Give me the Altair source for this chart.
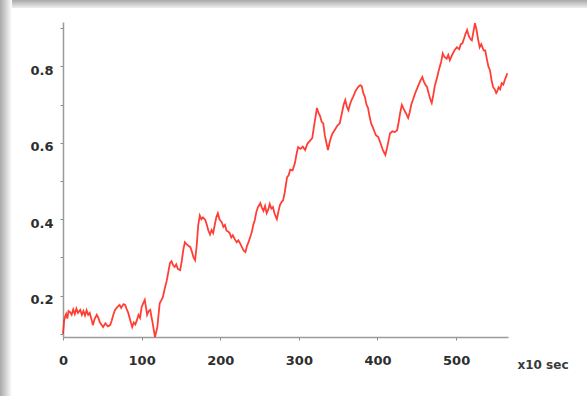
import altair as alt
import pandas as pd

# Time axis in units of 10 seconds, and the measured signal
t = [0, 1.5, 2.5, 4, 5.5, 7, 9, 11, 13, 15, 17, 19, 22, 24, 26, 28, 30, 32, 34, 36, 38, 40,
     43, 45, 47, 49, 51, 54, 57, 60, 62, 64, 66, 69, 72, 74, 77, 79, 81, 83, 85, 87, 88, 90,
     92, 94, 96, 98, 100, 102, 104, 105.5, 107, 109, 111, 112.5, 114, 115.5, 117, 118.5, 120,
     121.5, 123, 125, 127, 129, 132, 134, 136, 138, 140, 142, 144, 146, 149, 151, 153, 155,
     157, 160, 162, 164, 166, 168, 170, 172, 174, 176, 178, 181, 183, 185, 187, 189, 191, 193,
     195, 197, 199, 202, 204, 206, 208, 210, 212, 214, 216, 219, 221, 223, 225, 228, 230, 232,
     234, 236, 238, 240, 242, 244, 246, 248, 251, 253, 255, 257, 259, 261, 263, 265, 267, 269,
     272, 274, 276, 278, 280, 282, 285, 287, 289, 292, 295, 297, 299, 302, 305, 308, 311, 314,
     317, 319, 321, 323, 325, 327, 329, 331, 333, 335, 337, 339, 341, 343, 346, 349, 352, 355,
     357, 359, 361, 363, 365, 367, 369, 372, 375, 378, 380, 382, 384, 386, 388, 390, 392, 394,
     396, 398, 401, 404, 407, 410, 412, 414, 416, 419, 422, 425, 427, 429, 431, 433, 436, 439,
     441, 443, 445, 448, 451, 454, 457, 459, 461, 463, 465, 467, 469, 471, 473, 476, 478, 481,
     483, 485, 488, 490, 492, 495, 498, 501, 504, 506, 508, 510, 512, 514, 516, 518, 520, 522,
     524, 526, 528, 530, 532, 535, 537, 539, 541, 543, 545, 547, 549, 551, 552, 554, 556, 558,
     560, 562, 564, 565]
signal = [0.100, 0.135, 0.144, 0.152, 0.140, 0.160, 0.157, 0.150, 0.164, 0.152, 0.166, 0.155,
          0.163, 0.150, 0.160, 0.148, 0.162, 0.150, 0.155, 0.140, 0.123, 0.138, 0.150, 0.142,
          0.130, 0.124, 0.118, 0.128, 0.120, 0.123, 0.135, 0.150, 0.162, 0.170, 0.176, 0.168,
          0.178, 0.176, 0.165, 0.155, 0.140, 0.125, 0.118, 0.130, 0.125, 0.136, 0.150, 0.142,
          0.170, 0.180, 0.189, 0.170, 0.150, 0.160, 0.163, 0.145, 0.129, 0.110, 0.092, 0.105,
          0.118, 0.150, 0.180, 0.188, 0.196, 0.215, 0.240, 0.262, 0.285, 0.290, 0.280, 0.275,
          0.282, 0.270, 0.267, 0.290, 0.320, 0.340, 0.335, 0.330, 0.327, 0.315, 0.300, 0.293,
          0.330, 0.385, 0.410, 0.400, 0.405, 0.398, 0.385, 0.370, 0.360, 0.372, 0.364, 0.385,
          0.405, 0.416, 0.400, 0.392, 0.380, 0.385, 0.370, 0.368, 0.364, 0.352, 0.358, 0.346,
          0.340, 0.345, 0.338, 0.325, 0.318, 0.314, 0.330, 0.340, 0.353, 0.365, 0.385, 0.398,
          0.420, 0.432, 0.442, 0.430, 0.422, 0.435, 0.416, 0.425, 0.440, 0.428, 0.432, 0.415,
          0.400, 0.420, 0.438, 0.445, 0.450, 0.470, 0.510, 0.515, 0.530, 0.528, 0.547, 0.570,
          0.589, 0.584, 0.590, 0.581, 0.598, 0.605, 0.612, 0.640, 0.665, 0.691, 0.678, 0.670,
          0.655, 0.651, 0.620, 0.600, 0.581, 0.600, 0.615, 0.625, 0.635, 0.645, 0.651, 0.680,
          0.700, 0.712, 0.695, 0.685, 0.700, 0.712, 0.720, 0.735, 0.745, 0.751, 0.748, 0.730,
          0.720, 0.700, 0.691, 0.668, 0.650, 0.641, 0.630, 0.620, 0.615, 0.598, 0.580, 0.568,
          0.585, 0.605, 0.625, 0.630, 0.628, 0.633, 0.655, 0.680, 0.699, 0.690, 0.678, 0.665,
          0.680, 0.700, 0.712, 0.730, 0.745, 0.760, 0.772, 0.760, 0.752, 0.746, 0.730, 0.715,
          0.704, 0.725, 0.750, 0.772, 0.790, 0.812, 0.834, 0.825, 0.820, 0.830, 0.816, 0.830,
          0.842, 0.850, 0.845, 0.858, 0.860, 0.872, 0.885, 0.895, 0.880, 0.872, 0.868, 0.890,
          0.913, 0.895, 0.870, 0.850, 0.858, 0.842, 0.842, 0.820, 0.800, 0.790, 0.765, 0.746,
          0.740, 0.730, 0.733, 0.745, 0.740, 0.756, 0.752, 0.765, 0.775, 0.782]

x_ticks = [0, 100, 200, 300, 400, 500]
y_ticks = [0.1, 0.2, 0.3, 0.4, 0.5, 0.6, 0.7, 0.8, 0.9]

df = pd.DataFrame({"t": t, "signal": signal})

FONT = "DejaVu Sans"
W, H = 445, 315
PAD = {"left": 63, "top": 22, "right": 79, "bottom": 59}

line = alt.Chart(df).mark_line(color="#ff2a1f", strokeWidth=1.8, opacity=0.9).encode(
    x=alt.X(
        "t:Q",
        scale=alt.Scale(domain=[0, 566], nice=False, zero=False),
        axis=alt.Axis(
            values=x_ticks,
            format="d",
            grid=False,
            labelFlush=False,
            title="x10 sec",
            titleX=454,
            titleY=27,
            titleAlign="left",
            titleBaseline="middle",
            titleFont=FONT,
            titleFontSize=12,
            titleFontWeight="bold",
            titleColor="#3a3a3a",
            labelFont=FONT,
            labelFontSize=13,
            labelFontWeight="bold",
            labelColor="#2e2e2e",
            labelPadding=14,
            tickSize=3,
            tickColor="#8a8a8a",
            domainColor="#9a9a9a",
            domainWidth=1.5,
        ),
    ),
    y=alt.Y(
        "signal:Q",
        scale=alt.Scale(domain=[0.092, 0.916], nice=False, zero=False),
        axis=alt.Axis(
            values=y_ticks,
            labelExpr="round(datum.value * 10) % 2 == 0 ? format(datum.value, '.1f') : ''",
            grid=False,
            labelFlush=False,
            title=None,
            labelFont=FONT,
            labelFontSize=13,
            labelFontWeight="bold",
            labelColor="#2e2e2e",
            labelPadding=7,
            labelOffset=4,
            tickSize=3,
            tickColor="#8a8a8a",
            domainColor="#9a9a9a",
            domainWidth=1.5,
        ),
    ),
)

# Shaded frame edges along the top and left of the panel
top_edge = alt.Chart(df.head(1)).mark_rect(
    color=alt.Gradient(
        gradient="linear", x1=0, y1=0, x2=0, y2=1,
        stops=[alt.GradientStop(color="#a8a8a8", offset=0),
               alt.GradientStop(color="#eeeeee", offset=1)],
    )
).encode(x=alt.value(-PAD["left"]), x2=alt.value(W + PAD["right"]),
         y=alt.value(-PAD["top"]), y2=alt.value(-PAD["top"] + 8))

left_edge = alt.Chart(df.head(1)).mark_rect(
    color=alt.Gradient(
        gradient="linear", x1=0, y1=0, x2=1, y2=0,
        stops=[alt.GradientStop(color="#a8a8a8", offset=0),
               alt.GradientStop(color="#ffffff", offset=1)],
    )
).encode(x=alt.value(-PAD["left"]), x2=alt.value(-PAD["left"] + 12),
         y=alt.value(-PAD["top"]), y2=alt.value(H + PAD["bottom"]))

chart = alt.layer(line, top_edge, left_edge).properties(
    width=W,
    height=H,
    autosize=alt.AutoSizeParams(type="none"),
    padding=PAD,
    background="#ffffff",
).configure_view(stroke=None)

chart.save("out.html", embed_options={"renderer": "svg", "actions": False})
